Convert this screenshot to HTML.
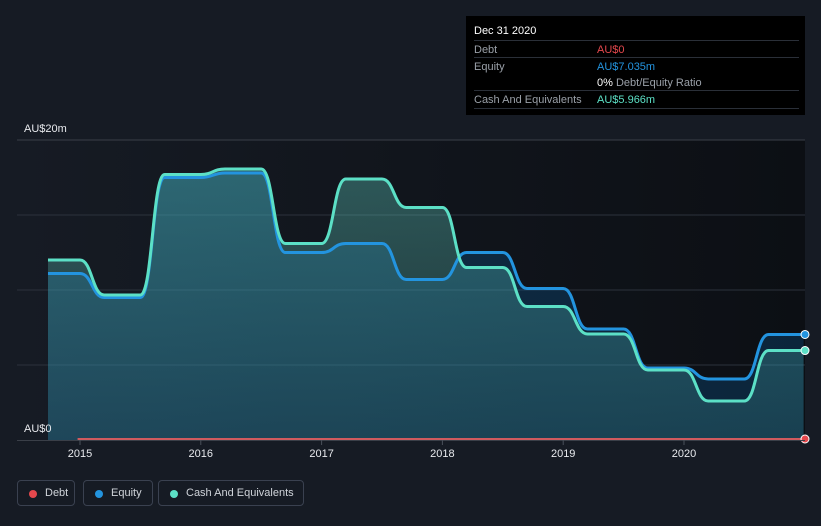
<!DOCTYPE html>
<html><head><meta charset="utf-8"><style>
body{margin:0;background:#161b24;font-family:"Liberation Sans",sans-serif;}
#wrap{position:relative;width:821px;height:526px;overflow:hidden;}
.tip{position:absolute;left:466px;top:16px;width:339px;height:99px;background:#000;color:#fff;font-size:11px;}
.row{position:absolute;left:8px;right:6px;height:17px;border-top:1px solid #2a2f38;}
.row span{position:absolute;top:3px;}
.lg{position:absolute;top:480px;height:26px;border:1px solid #3a4150;border-radius:4px;color:#d0d4da;font-size:11px;box-sizing:border-box;}
.lg i{position:absolute;left:11px;top:9px;width:8px;height:8px;border-radius:50%;}
.lg span{position:absolute;top:6px;}
</style></head><body>
<div id="wrap">
<svg id="svg" width="821" height="526" style="position:absolute;left:0;top:0">
<defs>
<linearGradient id="bgG" x1="0" x2="1" y1="0" y2="0"><stop offset="0" stop-color="#161b24"/><stop offset="1" stop-color="#0c0f14"/></linearGradient>
<linearGradient id="cashG" x1="0" x2="0" y1="0" y2="1"><stop offset="0" stop-color="rgb(98,212,200)" stop-opacity="0.35"/><stop offset="1" stop-color="rgb(98,212,200)" stop-opacity="0.15"/></linearGradient>
</defs>
<rect x="17" y="140" width="788" height="300" fill="url(#bgG)"/>
<g id="grid"></g><g id="areas"></g><g id="lines"></g><g id="xaxis"></g>
<text x="24" y="132" fill="#e8eaee" font-size="11">AU$20m</text>
<text x="24" y="432" fill="#e8eaee" font-size="11">AU$0</text>
</svg>
<div class="tip">
<div style="position:absolute;left:8px;top:9px;font-size:11px">Dec 31 2020</div>
<div class="row" style="top:24px"><span style="color:#9aa0a8">Debt</span><span style="left:123px;color:#e5484d">AU$0</span></div>
<div class="row" style="top:41px"><span style="color:#9aa0a8">Equity</span><span style="left:123px;color:#2394df">AU$7.035m</span></div>
<div class="row" style="top:58px;border-top:none"><span style="left:123px;color:#fff">0% <span style="position:static;color:#9aa0a8">Debt/Equity Ratio</span></span></div>
<div class="row" style="top:74px;border-bottom:1px solid #2a2f38"><span style="color:#9aa0a8">Cash And Equivalents</span><span style="left:123px;color:#5ce0c6">AU$5.966m</span></div>
</div>
<div class="lg" style="left:17px;width:58px"><i style="background:#e5484d"></i><span style="left:27px">Debt</span></div>
<div class="lg" style="left:83px;width:70px"><i style="background:#2394df"></i><span style="left:27px">Equity</span></div>
<div class="lg" style="left:158px;width:146px"><i style="background:#5ce0c6"></i><span style="left:27px">Cash And Equivalents</span></div>
</div>
<script>
const times=[2014.735,2015.0,2015.2,2015.5,2015.7,2016.0,2016.2,2016.5,2016.7,2017.0,2017.2,2017.5,2017.7,2018.0,2018.2,2018.5,2018.7,2019.0,2019.2,2019.5,2019.7,2020.0,2020.2,2020.5,2020.7,2020.99];
const equity=[11.1,11.1,9.5,9.5,17.5,17.5,17.8,17.8,12.5,12.5,13.1,13.1,10.7,10.7,12.5,12.5,10.1,10.1,7.4,7.4,4.8,4.8,4.07,4.07,7.035,7.035];
const cash=[12.0,12.0,9.67,9.67,17.7,17.7,18.07,18.07,13.1,13.1,17.4,17.4,15.5,15.5,11.5,11.5,8.9,8.9,7.07,7.07,4.67,4.67,2.6,2.6,5.966,5.966];
const debtTimes=[2014.98,2020.99];
const debt=[0,0];
const xTicks=[2015,2016,2017,2018,2019,2020];
const yTicks=[0,5,10,15,20];
const X=t=>80+(t-2015)*120.8, Y=v=>440-v*15;
const NS='http://www.w3.org/2000/svg';
function mk(tag,attrs,parent){const e=document.createElementNS(NS,tag);for(const k in attrs)e.setAttribute(k,attrs[k]);document.getElementById(parent).appendChild(e);return e;}
function path(vals,ts){let d='M'+X(ts[0])+','+Y(vals[0]);for(let i=1;i<vals.length;i++){const x0=X(ts[i-1]),x1=X(ts[i]),m=(x0+x1)/2;d+=' C'+m+','+Y(vals[i-1])+' '+m+','+Y(vals[i])+' '+x1+','+Y(vals[i]);}return d;}
yTicks.forEach(v=>{if(v===0)return;const l=mk('line',{x1:17,x2:805,y1:Y(v),y2:Y(v),stroke:v===20?'#3a3f48':'#2c323c','stroke-width':1},'grid');

});
const base=' L'+X(times[times.length-1])+','+Y(0)+' L'+X(times[0])+','+Y(0)+' Z';
const ea=mk('path',{d:path(equity,times)+base,fill:'rgba(10,100,165,0.27)'},'areas');


const ca=mk('path',{d:path(cash,times)+base,fill:'url(#cashG)'},'areas');


const el=mk('path',{d:path(equity,times),fill:'none',stroke:'#2394df','stroke-width':3},'lines');


const cl=mk('path',{d:path(cash,times),fill:'none',stroke:'#5ce0c6','stroke-width':3},'lines');


const dl=mk('line',{x1:X(debtTimes[0]),x2:X(debtTimes[1]),y1:Y(debt[0])-1,y2:Y(debt[1])-1,stroke:'#d05a5e','stroke-width':2},'lines');


[[equity,'#2394df','equity-end-dot'],[cash,'#5ce0c6','cash-end-dot'],[debt,'#e5484d','debt-end-dot']].forEach(([a,c,n])=>{const d=mk('circle',{cx:805,cy:Y(a[a.length-1])-(n==='debt-end-dot'?1:0),r:4,fill:c,stroke:'#fff','stroke-width':1},'lines');

});
const ax=mk('line',{x1:17,x2:805,y1:440.5,y2:440.5,stroke:'#3a3f48'},'xaxis');


xTicks.forEach(t=>{const tk=mk('line',{x1:X(t),x2:X(t),y1:440,y2:445,stroke:'#4a505a'},'xaxis');


const tx=mk('text',{x:X(t),y:457,fill:'#e8eaee','font-size':11,'text-anchor':'middle'},'xaxis');tx.textContent=t;

});
</script>
</body></html>
